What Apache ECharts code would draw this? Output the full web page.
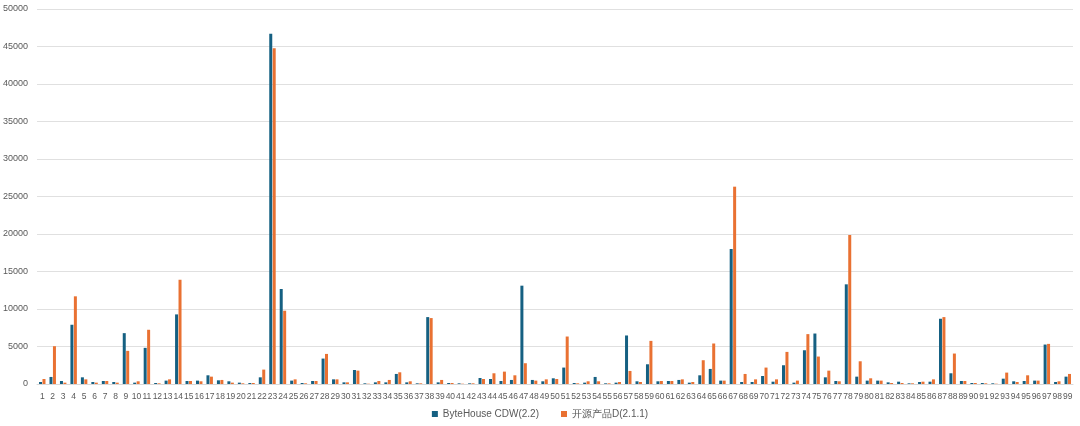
<!DOCTYPE html>
<html><head><meta charset="utf-8">
<script src="https://cdn.jsdelivr.net/npm/echarts@6/dist/echarts.min.js"></script>
<style>html,body{margin:0;padding:0;background:#fff}#c{width:1080px;height:426px}</style>
</head><body><div id="c"></div>
<script>
const categories = Array.from({length: 99}, (_, i) => String(i + 1));
const seriesNames = ['ByteHouse CDW(2.2)', '开源产品D(2.1.1)'];
const byteHouse = [270,940,400,7900,890,270,400,270,6780,180,4820,130,450,9280,400,450,1160,490,360,180,130,890,
  46700,12670,450,130,400,3390,620,220,1870,90,220,220,1340,220,90,8920,220,130,90,90,800,670,400,540,13110,
  540,360,760,2190,130,180,940,90,180,6470,360,2630,360,400,540,180,1160,2010,450,18000,270,270,1070,310,2500,180,
  4500,6730,890,400,13290,980,450,450,220,310,90,270,310,8700,1430,400,130,130,90,710,360,400,450,5260,270,980];
const openSource = [670,5040,180,11690,620,180,400,180,4420,360,7230,90,620,13900,400,360,980,540,180,90,130,1920,
  44760,9770,620,90,400,4010,620,220,1780,40,400,540,1560,360,90,8790,540,130,40,90,670,1430,1650,1160,2770,
  450,620,670,6330,90,360,360,90,270,1740,270,5750,400,400,620,270,3170,5400,450,26310,1340,620,2190,620,4280,450,
  6650,3660,1780,360,19870,3030,760,450,130,130,90,310,620,8920,4060,400,130,90,40,1520,270,1160,450,5350,360,1340];
const colors = ['#156082', '#E97132'];

const chart = echarts.init(document.getElementById('c'), null, {renderer: 'canvas'});
chart.setOption({
  animation: false,
  color: colors,
  grid: {left: 37, right: 7, top: 9, bottom: 42, containLabel: false},
  legend: {
    bottom: 2, left: 'center', itemWidth: 6, itemHeight: 6, itemGap: 22, icon: 'rect',
    textStyle: {fontSize: 10, color: '#595959', fontFamily: 'Liberation Sans, Arial, sans-serif'}
  },
  xAxis: {
    type: 'category', data: categories,
    axisLine: {lineStyle: {color: '#d9d9d9'}},
    axisTick: {show: false},
    axisLabel: {interval: 0, fontSize: 8.5, color: '#595959', margin: 8, fontFamily: 'Liberation Sans, Arial, sans-serif'}
  },
  yAxis: {
    type: 'value', min: 0, max: 50000, interval: 5000,
    axisLine: {show: false}, axisTick: {show: false},
    axisLabel: {fontSize: 9, color: '#595959', margin: 9, formatter: v => String(v), fontFamily: 'Liberation Sans, Arial, sans-serif'},
    splitLine: {lineStyle: {color: '#e0e0e0', width: 1}}
  },
  series: [
    {name: seriesNames[0], type: 'bar', data: byteHouse, barWidth: 3, barGap: '15%'},
    {name: seriesNames[1], type: 'bar', data: openSource, barWidth: 3, barGap: '15%'}
  ]
});
</script></body></html>
